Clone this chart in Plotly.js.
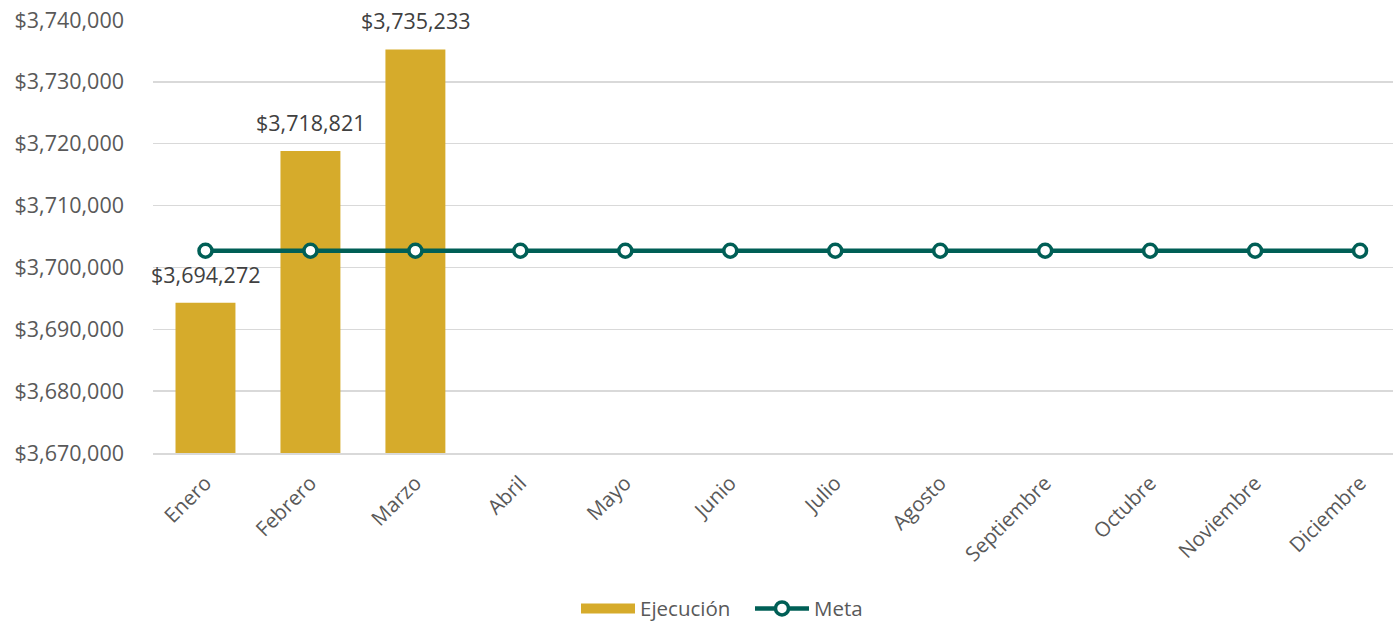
<!DOCTYPE html>
<html><head><meta charset="utf-8">
<script src="https://cdn.plot.ly/plotly-3.0.1.min.js"></script>
<style>html,body{margin:0;padding:0;overflow:hidden;background:#fff}</style>
</head><body><div id="chart" style="width:1393px;height:621px"></div>
<script>
const meses = ["Enero","Febrero","Marzo","Abril","Mayo","Junio","Julio","Agosto","Septiembre","Octubre","Noviembre","Diciembre"];
const ejecucion = [3694272, 3718821, 3735233];
const ejecucionMeses = ["Enero","Febrero","Marzo"];
const meta = [3702700,3702700,3702700,3702700,3702700,3702700,3702700,3702700,3702700,3702700,3702700,3702700];
const fmt = v => "$" + v.toLocaleString("en-US");

const GOLD = "#D6AB2B", GREEN = "#005F56";
const font = {family: "Open Sans, sans-serif", size: 20.5, color: "#595959"};
const tickFontY = {family: "Open Sans, sans-serif", size: 21.5, color: "#595959"};
const data = [
  {type: "bar", name: "Ejecución", x: ejecucionMeses, y: ejecucion, showlegend: false,
   marker: {color: GOLD}, width: 0.571, hoverinfo: "skip"},
  {type: "scatter", mode: "lines", name: "Ejecución", x: [null], y: [null],
   line: {color: GOLD, width: 15}, showlegend: true, hoverinfo: "skip"},
  {type: "scatter", mode: "lines+markers", name: "Meta", x: meses, y: meta,
   line: {color: GREEN, width: 4.5},
   marker: {size: 13, color: "#FFFFFF", line: {color: GREEN, width: 3.5}}}
];
const annotations = ejecucion.map((v, i) => ({
  x: ejecucionMeses[i], y: v, xref: "x", yref: "y", text: fmt(v), showarrow: false,
  yanchor: "bottom", yshift: 12,
  font: {family: "Open Sans, sans-serif", size: 21.5, color: "#404040"}
}));
const layout = {
  width: 1393, height: 621,
  margin: {l: 152.5, r: 0, t: 20, b: 168},
  paper_bgcolor: "#fff", plot_bgcolor: "#fff",
  font: font, showlegend: true, annotations: annotations,
  xaxis: {type: "category", categoryarray: meses, categoryorder: "array", automargin: false,
          range: [-0.5, 11.314], tickangle: -45, showgrid: false,
          showline: true, linecolor: "#D9D9D9", linewidth: 2, ticks: "", ticklabelstandoff: 8,
          tickfont: font, fixedrange: true},
  yaxis: {range: [3670000, 3740000], dtick: 10000, tick0: 3670000, automargin: false,
          tickprefix: "$", tickformat: ",", showgrid: true, gridcolor: "#D9D9D9", gridwidth: 1.5,
          zeroline: false, showline: false, ticks: "", ticklabelstandoff: 28,
          tickfont: tickFontY, fixedrange: true},
  legend: {orientation: "h", xref: "container", yref: "container",
           x: 0.4135, xanchor: "left", y: 0.02, yanchor: "middle",
           font: font, itemwidth: 54, entrywidth: 105, entrywidthmode: "pixels", tracegroupgap: 0},
  bargap: 0.43
};
Plotly.newPlot("chart", data, layout, {displayModeBar: false, staticPlot: true});
</script></body></html>
